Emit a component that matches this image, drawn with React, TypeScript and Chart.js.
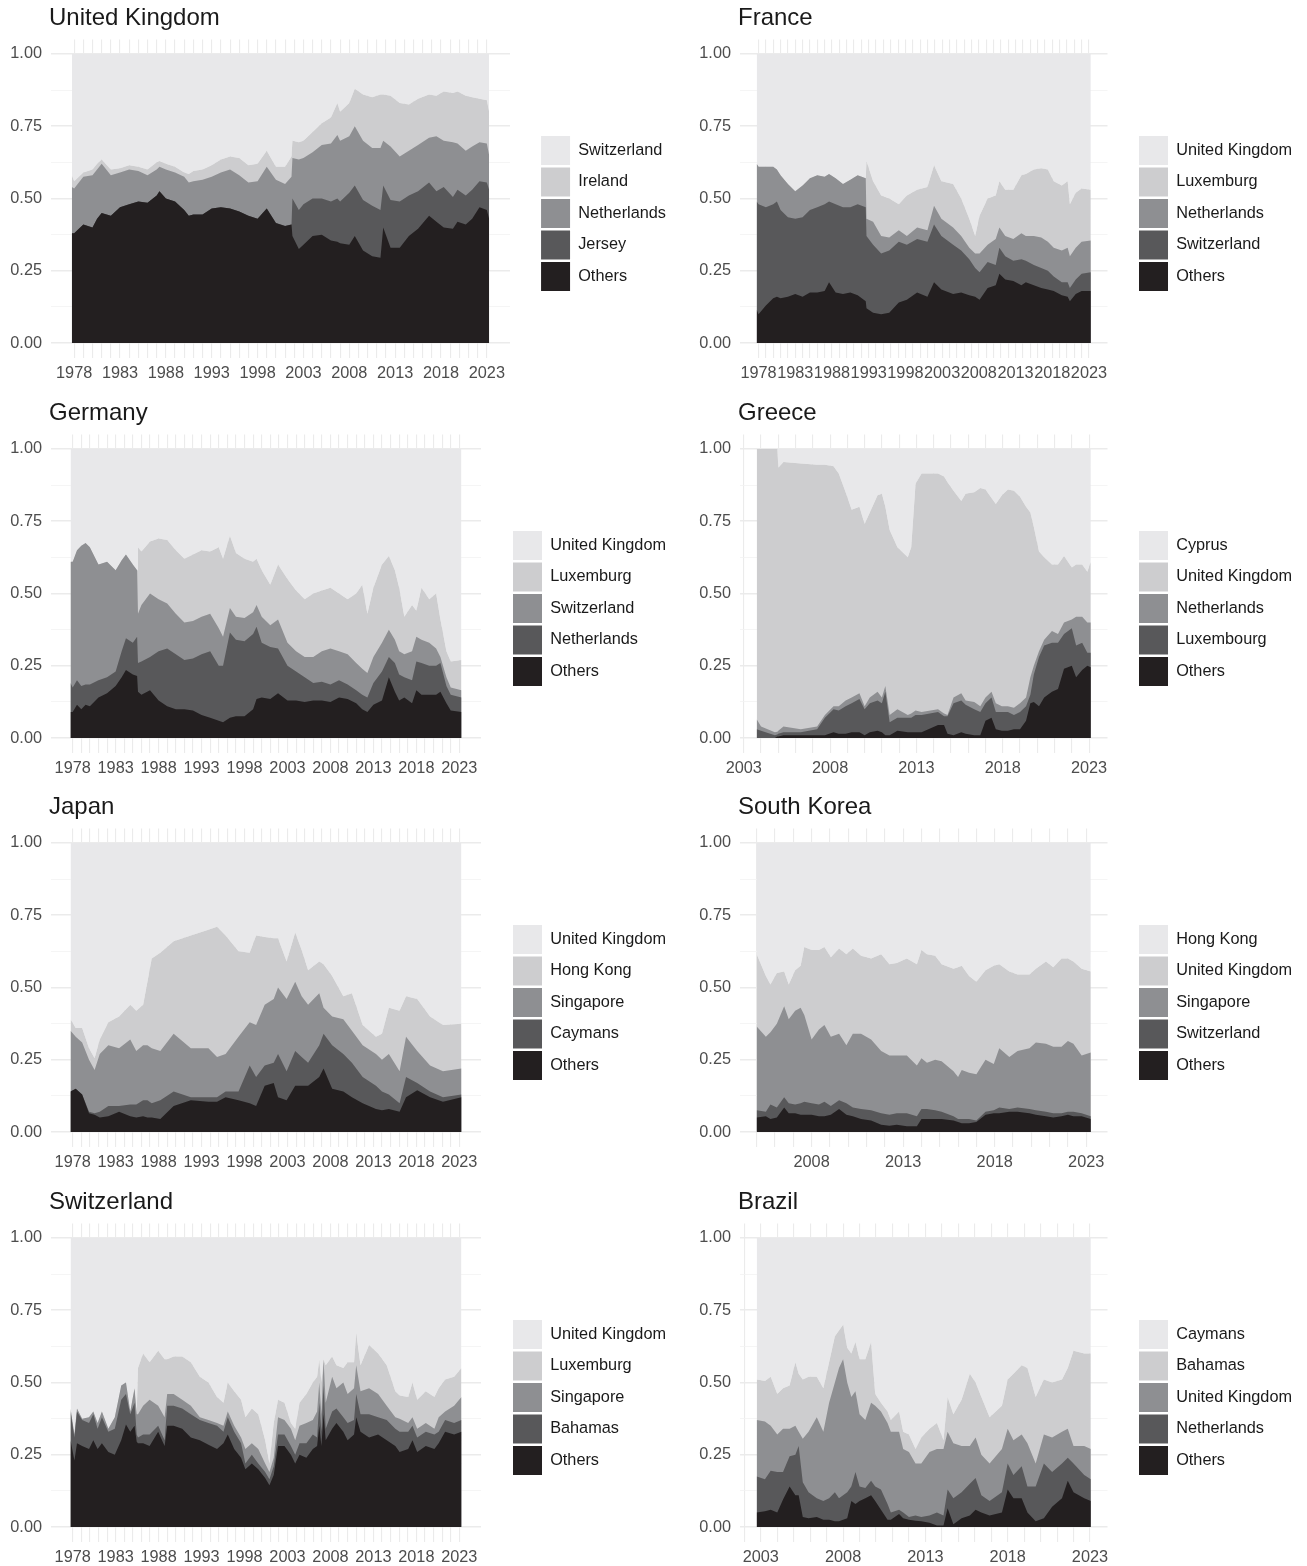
import React, { useEffect, useRef } from 'react';
import { Chart, registerables } from 'chart.js';

Chart.register(...registerables);

const FONT = "'Liberation Sans', Arial, Helvetica, sans-serif";
// band colours, bottom band first
const LAYER_COLORS = ['#231F20', '#58585A', '#8E8F92', '#CDCDCF', '#E8E8EA'];
const AXIS_TEXT = '#4D4D4D';
const LEGEND_TEXT = '#1A1A1A';
const GRID = '#EBEBEB';
const GRID_MINOR = '#F3F3F3';

// ---- axis ticks ----
const yTickValues = [0, 0.125, 0.25, 0.375, 0.5, 0.625, 0.75, 0.875, 1];
const yTickLabels = ['0.00', '', '0.25', '', '0.50', '', '0.75', '', '1.00'];
const longGridYears = Array.from({ length: 46 }, (_, i) => 1978 + i);
const longLabelYears = [1978, 1983, 1988, 1993, 1998, 2003, 2008, 2013, 2018, 2023];
const greeceGridYears = Array.from({ length: 21 }, (_, i) => 2003 + i);
const greeceLabelYears = [2003, 2008, 2013, 2018, 2023];
const koreaGridYears = Array.from({ length: 19 }, (_, i) => 2005 + i);
const koreaLabelYears = [2008, 2013, 2018, 2023];
const brazilGridYears = Array.from({ length: 22 }, (_, i) => 2002 + i);
const brazilLabelYears = [2003, 2008, 2013, 2018, 2023];

// ---- United Kingdom (upper edge of each stacked band) ----
const ukNames = ['Others', 'Jersey', 'Netherlands', 'Ireland', 'Switzerland'];
const ukYears = [1977.75, 1978, 1979, 1980, 1980.5, 1981, 1982, 1983, 1984, 1985, 1986, 1987, 1987.3, 1988, 1989, 1990, 1990.5, 1991, 1992, 1993, 1994, 1995, 1996, 1997, 1998, 1999, 2000, 2001, 2001.7, 2001.8, 2002.5, 2003, 2004, 2005, 2006, 2006.7, 2007, 2008, 2008.6, 2009.5, 2010.5, 2011.4, 2011.7, 2012.5, 2013.5, 2014.5, 2015.5, 2016.7, 2017.5, 2018.3, 2019.3, 2019.8, 2020.7, 2021.4, 2022.2, 2023, 2023.25];
const ukOthersTop = [.38, .38, .41, .40, .43, .45, .44, .47, .48, .49, .485, .51, .525, .50, .49, .46, .44, .445, .445, .465, .47, .465, .455, .44, .43, .465, .415, .405, .41, .37, .325, .34, .37, .375, .355, .35, .345, .34, .37, .32, .30, .295, .40, .33, .33, .37, .395, .44, .42, .40, .395, .42, .41, .43, .47, .46, .43];
const ukJerseyTop = [.38, .38, .41, .40, .43, .45, .44, .47, .48, .49, .485, .51, .525, .50, .49, .46, .44, .445, .445, .465, .47, .465, .455, .44, .43, .465, .415, .405, .41, .50, .46, .48, .50, .50, .49, .50, .49, .52, .545, .495, .475, .46, .545, .495, .49, .51, .525, .555, .525, .54, .505, .53, .51, .53, .56, .555, .53];
const ukNetherlandsTop = [.54, .535, .575, .58, .60, .62, .58, .59, .60, .595, .58, .60, .61, .60, .59, .575, .555, .56, .565, .575, .59, .60, .58, .555, .56, .61, .565, .55, .575, .64, .635, .64, .66, .685, .69, .72, .70, .715, .75, .70, .675, .675, .70, .68, .645, .665, .685, .71, .715, .70, .695, .69, .665, .68, .695, .69, .65];
const ukIrelandTop = [.58, .56, .59, .60, .62, .635, .60, .605, .615, .61, .60, .625, .63, .62, .61, .59, .585, .595, .60, .615, .635, .645, .64, .615, .62, .665, .61, .61, .645, .70, .695, .70, .73, .76, .78, .83, .80, .83, .88, .86, .85, .86, .86, .855, .83, .825, .845, .86, .855, .87, .865, .87, .855, .85, .845, .84, .80];

// ---- France ----
const frNames = ['Others', 'Switzerland', 'Netherlands', 'Luxemburg', 'United Kingdom'];
const frYears = [1977.75, 1978, 1979, 1980, 1980.5, 1981, 1982, 1983, 1984, 1985, 1986, 1987, 1987.6, 1988.5, 1989.5, 1990.5, 1991.5, 1992.6, 1992.7, 1993.6, 1994.7, 1995.8, 1997.1, 1998.2, 1999.6, 2001, 2001.9, 2002.9, 2004.5, 2005.6, 2006.7, 2007.5, 2008.1, 2009.2, 2010.3, 2010.8, 2011.6, 2012.7, 2013.8, 2014.4, 2015.5, 2016.5, 2017.4, 2018.2, 2019.3, 2020.1, 2020.4, 2021.2, 2022, 2023.25];
const frOthersTop = [.115, .10, .13, .155, .16, .155, .16, .17, .16, .175, .175, .18, .21, .175, .17, .175, .165, .145, .12, .105, .10, .105, .14, .15, .175, .16, .21, .185, .17, .175, .165, .16, .15, .19, .20, .24, .22, .215, .20, .21, .20, .19, .185, .18, .165, .16, .145, .17, .18, .18];
const frSwitzerlandTop = [.49, .48, .47, .48, .49, .46, .435, .43, .435, .46, .47, .48, .49, .48, .47, .47, .48, .47, .37, .34, .31, .32, .35, .34, .36, .35, .41, .37, .34, .32, .29, .26, .245, .28, .27, .33, .30, .285, .29, .285, .27, .26, .25, .23, .21, .21, .19, .22, .24, .245];
const frNetherlandsTop = [.62, .61, .61, .61, .60, .58, .55, .525, .545, .57, .58, .575, .585, .57, .55, .565, .58, .57, .43, .42, .37, .365, .39, .37, .40, .39, .475, .43, .40, .37, .33, .31, .31, .34, .36, .40, .37, .36, .38, .37, .37, .365, .35, .33, .32, .33, .30, .33, .35, .355];
const frLuxemburgTop = [.62, .61, .61, .61, .60, .58, .55, .525, .545, .57, .58, .575, .585, .57, .55, .565, .58, .57, .63, .56, .51, .50, .48, .51, .53, .54, .615, .56, .55, .50, .43, .37, .44, .50, .51, .56, .53, .53, .58, .585, .60, .605, .60, .56, .545, .56, .48, .52, .535, .53];

// ---- Germany ----
const deNames = ['Others', 'Netherlands', 'Switzerland', 'Luxemburg', 'United Kingdom'];
const deYears = [1977.75, 1978, 1978.5, 1979, 1979.5, 1980, 1981, 1982, 1983, 1983.7, 1984.2, 1985, 1985.5, 1985.6, 1986, 1987, 1988, 1989, 1990, 1991, 1992, 1993, 1994, 1995, 1995.5, 1996.3, 1997, 1998, 1999, 1999.4, 2000, 2001, 2001.9, 2003, 2004, 2005, 2006, 2007, 2008, 2009, 2010, 2011, 2011.7, 2012.3, 2013, 2014, 2014.8, 2015.5, 2016, 2016.6, 2017.5, 2018, 2018.6, 2019.5, 2020.3, 2020.8, 2021.5, 2022, 2023.25];
const deOthersTop = [.09, .09, .115, .10, .115, .11, .14, .155, .18, .21, .235, .22, .215, .16, .15, .165, .13, .11, .10, .10, .095, .08, .07, .06, .055, .07, .075, .075, .10, .135, .14, .135, .155, .13, .13, .125, .13, .13, .125, .14, .135, .12, .10, .09, .115, .13, .21, .16, .13, .14, .12, .165, .15, .15, .15, .16, .12, .095, .09];
const deNetherlandsTop = [.19, .175, .20, .18, .185, .185, .20, .21, .23, .30, .345, .33, .35, .26, .265, .28, .30, .31, .29, .27, .275, .29, .30, .25, .25, .365, .34, .335, .36, .385, .33, .315, .31, .25, .23, .21, .19, .195, .185, .20, .185, .165, .15, .14, .19, .23, .28, .26, .22, .21, .20, .265, .26, .25, .25, .26, .18, .15, .14];
const deSwitzerlandTop = [.61, .61, .65, .665, .675, .66, .60, .61, .58, .615, .635, .60, .58, .43, .46, .50, .48, .465, .43, .40, .405, .42, .43, .38, .35, .45, .42, .415, .435, .46, .42, .39, .41, .33, .30, .28, .28, .30, .31, .30, .29, .26, .24, .225, .28, .33, .375, .34, .30, .29, .30, .35, .34, .33, .31, .28, .21, .175, .165];
const deLuxemburgTop = [.61, .61, .65, .665, .675, .66, .60, .61, .58, .615, .635, .60, .58, .66, .645, .68, .69, .685, .65, .62, .635, .65, .645, .66, .62, .70, .64, .62, .61, .62, .58, .53, .60, .55, .51, .48, .50, .51, .52, .50, .48, .50, .53, .43, .52, .60, .63, .58, .52, .42, .46, .44, .52, .48, .50, .41, .30, .265, .27];

// ---- Greece ----
const grNames = ['Others', 'Luxembourg', 'Netherlands', 'United Kingdom', 'Cyprus'];
const grYears = [2003.75, 2004, 2004.8, 2004.95, 2005, 2005.3, 2006.3, 2007.25, 2007.7, 2008.2, 2008.5, 2008.9, 2009.25, 2009.7, 2010, 2010.3, 2010.75, 2011, 2011.2, 2011.45, 2011.9, 2012.5, 2012.7, 2012.95, 2013.3, 2014.25, 2014.6, 2014.8, 2015.15, 2015.6, 2015.85, 2016.35, 2016.7, 2017, 2017.35, 2017.6, 2017.95, 2018.3, 2018.65, 2019, 2019.35, 2019.6, 2019.8, 2020.1, 2020.4, 2020.85, 2021.2, 2021.55, 2022, 2022.25, 2022.6, 2022.9, 2023.1];
const grOthersTop = [0, 0, 0, .005, .005, .01, .01, .01, .01, .02, .015, .015, .02, .02, .01, .02, .025, .02, .01, .01, .025, .02, .02, .02, .02, .045, .045, .015, .01, .02, .015, .01, .01, .06, .07, .03, .025, .025, .03, .03, .06, .12, .125, .11, .14, .16, .17, .24, .25, .21, .235, .25, .245];
const grLuxembourgTop = [.03, .025, .01, .012, .015, .02, .02, .03, .07, .10, .095, .11, .12, .135, .10, .12, .13, .12, .16, .055, .07, .07, .07, .08, .08, .09, .075, .075, .12, .13, .115, .10, .09, .12, .14, .09, .09, .09, .08, .09, .11, .15, .22, .28, .32, .33, .33, .36, .38, .32, .33, .295, .295];
const grNetherlandsTop = [.065, .04, .02, .022, .025, .04, .03, .04, .08, .11, .11, .13, .14, .155, .11, .14, .16, .14, .18, .08, .10, .08, .085, .095, .09, .10, .085, .08, .14, .155, .13, .125, .11, .14, .16, .12, .11, .11, .105, .12, .14, .21, .25, .30, .34, .37, .36, .40, .41, .42, .42, .40, .40];
const grUKTop = [1, 1, 1, 1, .935, .955, .95, .945, .945, .94, .915, .85, .79, .80, .74, .78, .84, .845, .80, .72, .66, .625, .66, .88, .915, .915, .905, .885, .855, .82, .845, .85, .865, .86, .83, .81, .84, .86, .855, .835, .80, .78, .73, .645, .625, .60, .60, .63, .59, .60, .60, .575, .61];

// ---- Japan ----
const jpNames = ['Others', 'Caymans', 'Singapore', 'Hong Kong', 'United Kingdom'];
const jpYears = [1977.75, 1978.35, 1979.1, 1979.9, 1980.55, 1981.15, 1982.15, 1983.4, 1984.7, 1985.4, 1986.2, 1986.7, 1987.2, 1988.2, 1989.75, 1991.75, 1993.8, 1994.8, 1995.8, 1997.3, 1998.6, 1999.35, 2000.35, 2001.4, 2001.9, 2002.9, 2003.9, 2004.65, 2005.4, 2006.7, 2007.2, 2008.2, 2009.5, 2010.5, 2011.75, 2013.3, 2014, 2014.8, 2016.05, 2016.8, 2018.1, 2019.6, 2021.1, 2023.25];
const jpOthersTop = [.14, .15, .13, .065, .06, .05, .055, .07, .055, .05, .055, .05, .05, .045, .09, .11, .105, .105, .12, .11, .10, .09, .16, .17, .12, .11, .16, .16, .16, .19, .22, .15, .14, .12, .10, .08, .075, .08, .07, .12, .145, .12, .105, .12];
const jpCaymansTop = [.14, .15, .13, .07, .065, .07, .09, .09, .095, .095, .11, .11, .10, .11, .14, .12, .12, .12, .14, .14, .23, .19, .23, .24, .27, .21, .28, .26, .24, .30, .34, .30, .27, .24, .19, .16, .14, .13, .10, .19, .17, .14, .12, .13];
const jpSingaporeTop = [.35, .33, .31, .25, .215, .27, .30, .29, .32, .28, .30, .30, .29, .28, .34, .29, .29, .26, .27, .33, .38, .37, .44, .46, .50, .46, .52, .47, .44, .48, .43, .40, .39, .35, .30, .27, .25, .27, .21, .33, .28, .23, .21, .22];
const jpHongKongTop = [.39, .36, .36, .29, .255, .32, .38, .40, .44, .42, .44, .52, .60, .62, .66, .68, .70, .71, .68, .625, .62, .68, .675, .67, .67, .59, .69, .63, .56, .59, .58, .54, .47, .48, .37, .33, .34, .43, .42, .47, .46, .40, .37, .375];

// ---- South Korea ----
const krNames = ['Others', 'Switzerland', 'Singapore', 'United Kingdom', 'Hong Kong'];
const krYears = [2005.0, 2005.5, 2005.75, 2006.1, 2006.5, 2006.75, 2007.1, 2007.4, 2007.6, 2008.0, 2008.4, 2008.7, 2009.05, 2009.5, 2009.9, 2010.25, 2010.7, 2011.25, 2011.8, 2012.25, 2012.65, 2013.2, 2013.75, 2014.0, 2014.3, 2014.75, 2015.1, 2015.75, 2016.0, 2016.2, 2016.6, 2017.0, 2017.5, 2017.95, 2018.25, 2018.8, 2019.25, 2019.9, 2020.25, 2020.8, 2021.2, 2021.65, 2022.0, 2022.3, 2022.75, 2023.25];
const krOthersTop = [.05, .055, .045, .05, .085, .065, .065, .06, .06, .06, .055, .055, .06, .08, .06, .055, .045, .04, .025, .022, .025, .02, .02, .045, .045, .045, .045, .04, .035, .03, .03, .035, .06, .065, .065, .07, .07, .065, .06, .055, .05, .055, .06, .055, .055, .045];
const krSwitzerlandTop = [.075, .07, .095, .085, .12, .10, .095, .10, .105, .10, .095, .105, .09, .11, .10, .085, .08, .075, .065, .06, .065, .065, .055, .08, .08, .075, .07, .055, .045, .045, .045, .04, .07, .075, .085, .08, .085, .08, .075, .07, .065, .065, .07, .07, .065, .055];
const krSingaporeTop = [.365, .33, .345, .375, .435, .39, .42, .43, .405, .32, .355, .37, .33, .34, .30, .34, .34, .32, .28, .265, .265, .265, .23, .255, .24, .25, .245, .21, .19, .215, .205, .20, .25, .235, .29, .26, .28, .29, .31, .305, .295, .295, .315, .305, .265, .275];
const krUKTop = [.615, .54, .51, .55, .555, .51, .56, .575, .64, .63, .63, .64, .605, .635, .615, .635, .61, .60, .615, .58, .585, .60, .58, .63, .615, .61, .58, .565, .57, .575, .54, .52, .56, .575, .58, .555, .545, .545, .565, .59, .57, .60, .60, .59, .565, .555];

// ---- Switzerland ----
const swNames = ['Others', 'Bahamas', 'Singapore', 'Luxemburg', 'United Kingdom'];
const swYears = [1977.75, 1978.2, 1978.5, 1979.1, 1979.9, 1980.4, 1980.9, 1981.4, 1982.15, 1982.9, 1983.65, 1984.2, 1984.7, 1985.2, 1985.45, 1985.6, 1986.2, 1986.95, 1987.95, 1988.7, 1989.0, 1989.75, 1990.75, 1991.75, 1992.8, 1993.8, 1994.8, 1995.55, 1996.05, 1996.8, 1997.6, 1998.1, 1998.85, 1999.6, 2000.4, 2000.9, 2001.4, 2001.9, 2002.65, 2003.4, 2003.9, 2004.4, 2005.2, 2005.95, 2006.45, 2006.7, 2006.95, 2007.2, 2007.45, 2008.2, 2008.7, 2009.5, 2010.0, 2010.75, 2011.0, 2011.5, 2012.5, 2013.55, 2014.55, 2015.55, 2016.05, 2017.05, 2017.55, 2018.1, 2019.1, 2020.1, 2020.6, 2021.35, 2022.4, 2023.25];
const swOthersTop = [.30, .23, .29, .28, .27, .30, .27, .29, .26, .25, .30, .355, .33, .35, .295, .29, .29, .28, .33, .28, .35, .35, .34, .31, .30, .285, .27, .29, .32, .27, .24, .20, .22, .20, .17, .145, .18, .28, .28, .25, .22, .25, .24, .27, .28, .35, .28, .39, .30, .34, .36, .33, .30, .32, .38, .33, .31, .32, .30, .28, .26, .27, .30, .26, .28, .27, .29, .33, .32, .33];
const swBahamasTop = [.40, .31, .40, .37, .36, .39, .34, .38, .33, .34, .44, .46, .39, .43, .32, .31, .32, .32, .35, .30, .42, .42, .41, .39, .37, .36, .35, .33, .38, .33, .29, .22, .25, .22, .19, .165, .21, .32, .32, .28, .25, .29, .29, .32, .31, .43, .33, .49, .34, .40, .41, .38, .36, .37, .46, .39, .39, .38, .37, .34, .33, .33, .35, .31, .33, .32, .33, .37, .36, .37];
const swSingaporeTop = [.41, .32, .41, .375, .38, .40, .36, .40, .34, .38, .49, .50, .40, .48, .39, .39, .42, .44, .42, .38, .46, .46, .44, .42, .38, .37, .36, .35, .40, .35, .31, .27, .29, .27, .22, .19, .24, .38, .37, .34, .30, .35, .36, .37, .40, .50, .39, .58, .43, .52, .48, .50, .46, .48, .56, .47, .48, .46, .42, .38, .375, .36, .38, .34, .36, .34, .38, .40, .42, .45];
const swLuxemburgTop = [.41, .32, .41, .375, .38, .40, .36, .40, .34, .38, .49, .50, .40, .48, .39, .55, .60, .57, .61, .58, .58, .59, .59, .57, .52, .50, .45, .43, .50, .47, .44, .38, .41, .39, .30, .22, .36, .44, .43, .36, .34, .43, .46, .50, .52, .58, .50, .58, .56, .59, .56, .55, .57, .57, .67, .56, .63, .60, .56, .47, .455, .45, .50, .44, .47, .45, .48, .51, .52, .55];

// ---- Brazil ----
const brNames = ['Others', 'Netherlands', 'United Kingdom', 'Bahamas', 'Caymans'];
const brYears = [2002.75, 2003.25, 2003.6, 2004.0, 2004.35, 2004.75, 2005.1, 2005.3, 2005.55, 2005.9, 2006.4, 2006.8, 2007.15, 2007.5, 2007.75, 2008.0, 2008.25, 2008.5, 2008.75, 2009.0, 2009.35, 2009.7, 2009.95, 2010.3, 2010.7, 2010.9, 2011.4, 2011.65, 2012.0, 2012.4, 2012.75, 2013.25, 2013.7, 2014.1, 2014.35, 2014.7, 2015.2, 2015.7, 2016.05, 2016.4, 2016.9, 2017.65, 2018.0, 2018.35, 2018.85, 2019.2, 2019.7, 2020.2, 2020.7, 2021.3, 2021.65, 2022.0, 2022.65, 2023.05];
const brOthersTop = [.05, .055, .06, .05, .095, .14, .11, .11, .035, .03, .035, .025, .025, .02, .02, .025, .03, .09, .08, .09, .10, .11, .09, .06, .025, .025, .045, .03, .025, .022, .02, .015, .005, .005, .065, .01, .03, .04, .06, .05, .04, .05, .13, .10, .10, .05, .02, .03, .07, .10, .16, .12, .10, .09];
const brNetherlandsTop = [.175, .165, .195, .19, .19, .245, .25, .28, .155, .12, .10, .09, .10, .12, .10, .11, .12, .14, .19, .14, .135, .16, .14, .13, .08, .05, .06, .05, .035, .04, .035, .04, .05, .04, .13, .10, .12, .15, .17, .11, .09, .12, .22, .18, .21, .14, .14, .22, .19, .22, .24, .22, .18, .165];
const brUKTop = [.37, .365, .35, .32, .34, .34, .35, .33, .305, .33, .38, .33, .43, .50, .55, .58, .50, .45, .47, .39, .37, .43, .42, .40, .36, .33, .33, .27, .26, .22, .22, .26, .27, .27, .33, .29, .28, .28, .31, .25, .22, .27, .34, .30, .32, .29, .22, .32, .31, .33, .34, .28, .28, .27];
const brBahamasTop = [.51, .505, .52, .46, .48, .49, .57, .53, .51, .52, .52, .48, .57, .66, .68, .70, .62, .60, .64, .58, .58, .64, .46, .43, .40, .37, .40, .33, .32, .27, .31, .34, .36, .30, .45, .39, .44, .53, .50, .45, .38, .42, .51, .53, .56, .55, .45, .51, .50, .51, .55, .61, .60, .60];

type PanelSpec = {
  id: string;
  title: string;
  names: string[];
  years: number[];
  tops: number[][];
  gridYears: number[];
  labelYears: number[];
  col: number;
  row: number;
  areaRight: number;
};

const PANELS: PanelSpec[] = [
  { id: 'uk', title: 'United Kingdom', names: ukNames, years: ukYears, tops: [ukOthersTop, ukJerseyTop, ukNetherlandsTop, ukIrelandTop], gridYears: longGridYears, labelYears: longLabelYears, col: 0, row: 0, areaRight: 510 },
  { id: 'fr', title: 'France', names: frNames, years: frYears, tops: [frOthersTop, frSwitzerlandTop, frNetherlandsTop, frLuxemburgTop], gridYears: longGridYears, labelYears: longLabelYears, col: 1, row: 0, areaRight: 418.5 },
  { id: 'de', title: 'Germany', names: deNames, years: deYears, tops: [deOthersTop, deNetherlandsTop, deSwitzerlandTop, deLuxemburgTop], gridYears: longGridYears, labelYears: longLabelYears, col: 0, row: 1, areaRight: 481 },
  { id: 'gr', title: 'Greece', names: grNames, years: grYears, tops: [grOthersTop, grLuxembourgTop, grNetherlandsTop, grUKTop], gridYears: greeceGridYears, labelYears: greeceLabelYears, col: 1, row: 1, areaRight: 418.5 },
  { id: 'jp', title: 'Japan', names: jpNames, years: jpYears, tops: [jpOthersTop, jpCaymansTop, jpSingaporeTop, jpHongKongTop], gridYears: longGridYears, labelYears: longLabelYears, col: 0, row: 2, areaRight: 481 },
  { id: 'kr', title: 'South Korea', names: krNames, years: krYears, tops: [krOthersTop, krSwitzerlandTop, krSingaporeTop, krUKTop], gridYears: koreaGridYears, labelYears: koreaLabelYears, col: 1, row: 2, areaRight: 418.5 },
  { id: 'sw', title: 'Switzerland', names: swNames, years: swYears, tops: [swOthersTop, swBahamasTop, swSingaporeTop, swLuxemburgTop], gridYears: longGridYears, labelYears: longLabelYears, col: 0, row: 3, areaRight: 481 },
  { id: 'br', title: 'Brazil', names: brNames, years: brYears, tops: [brOthersTop, brNetherlandsTop, brUKTop, brBahamasTop], gridYears: brazilGridYears, labelYears: brazilLabelYears, col: 1, row: 3, areaRight: 418.5 },
];

const ROW_TOPS = [0, 395, 789, 1184];
const COL_LEFTS = [0, 689];
const COL_WIDTHS = [680, 618];
const LEGEND_RIGHT = [676, 613];
const CANVAS_H = 394;

function PanelChart({ p }: { p: PanelSpec }) {
  const ref = useRef<HTMLCanvasElement | null>(null);
  const W = COL_WIDTHS[p.col];
  useEffect(() => {
    if (!ref.current) return;
    const first = p.years[0];
    const last = p.years[p.years.length - 1];
    const span = last - first;
    const legendRight = LEGEND_RIGHT[p.col];
    const datasets: any[] = p.tops.map((t, i) => ({
      label: p.names[i],
      data: p.years.map((x, j) => ({ x, y: t[j] })),
      backgroundColor: LAYER_COLORS[i],
      borderColor: LAYER_COLORS[i],
      borderWidth: 0,
      pointRadius: 0,
      pointHoverRadius: 0,
      tension: 0,
      fill: 'origin',
      xAxisID: 'x',
      yAxisID: 'y',
    }));
    datasets.push({
      label: p.names[4],
      data: p.years.map((x, j) => ({ x, y: p.tops[3][j] })),
      backgroundColor: LAYER_COLORS[4],
      borderColor: LAYER_COLORS[4],
      borderWidth: 0,
      pointRadius: 0,
      pointHoverRadius: 0,
      tension: 0,
      fill: { value: 1 },
      xAxisID: 'x',
      yAxisID: 'y',
    });
    const chart = new Chart(ref.current, {
      type: 'line',
      data: { datasets },
      options: {
        animation: false,
        responsive: false,
        devicePixelRatio: 1,
        layout: { padding: { top: 39.5, bottom: 6.5, left: 0, right: W - legendRight } },
        plugins: {
          title: { display: false },
          tooltip: { enabled: false },
          legend: {
            display: true,
            position: 'right',
            reverse: true,
            maxWidth: 400,
            labels: {
              boxWidth: 29,
              boxHeight: 29,
              padding: 2.5,
              color: LEGEND_TEXT,
              font: { family: FONT, size: 16.3 },
            },
          },
        },
        scales: {
          x: {
            type: 'linear',
            position: 'bottom',
            min: first - 0.05 * span,
            max: last + 0.05 * span,
            afterBuildTicks: (s: any) => {
              s.ticks = p.gridYears.map((v) => ({ value: v }));
            },
            afterFit: (s: any) => {
              s.height = 30;
            },
            ticks: {
              autoSkip: false,
              maxRotation: 0,
              minRotation: 0,
              padding: 6.5,
              color: AXIS_TEXT,
              font: { family: FONT, size: 16.3 },
              callback: (v: any) => (p.labelYears.includes(Number(v)) ? String(v) : ''),
            },
            grid: { drawTicks: false, color: GRID, lineWidth: 1.1 },
            border: { display: false },
          },
          y: {
            type: 'linear',
            position: 'left',
            min: -0.05,
            max: 1.05,
            afterBuildTicks: (s: any) => {
              s.ticks = yTickValues.map((v) => ({ value: v }));
            },
            afterFit: (s: any) => {
              s.width = 51;
            },
            ticks: {
              padding: 9,
              color: AXIS_TEXT,
              font: { family: FONT, size: 16.3 },
              callback: (_v: any, i: number) => yTickLabels[i] ?? '',
            },
            grid: {
              drawTicks: false,
              color: (c: any) => (c.index % 2 === 0 ? GRID : GRID_MINOR),
              lineWidth: (c: any) => (c.index % 2 === 0 ? 1.5 : 0.8),
            },
            border: { display: false },
          },
          gap: {
            type: 'linear',
            position: 'right',
            display: true,
            ticks: { display: false },
            grid: { display: false, drawTicks: false },
            border: { display: false },
            afterFit: (s: any) => {
              const lw = s.chart && s.chart.legend ? s.chart.legend.width : 0;
              s.width = Math.max(0, legendRight - lw - p.areaRight);
            },
          },
        },
      } as any,
    });
    return () => chart.destroy();
  }, []);

  const left = COL_LEFTS[p.col];
  const top = ROW_TOPS[p.row];
  return (
    <>
      <canvas
        ref={ref}
        width={W}
        height={CANVAS_H}
        style={{ position: 'absolute', left, top, width: W, height: CANVAS_H, display: 'block' }}
      />
      <div
        style={{
          position: 'absolute',
          left: left + 49,
          top: top + 2.5,
          fontFamily: FONT,
          fontSize: 24,
          lineHeight: '28px',
          color: LEGEND_TEXT,
          whiteSpace: 'nowrap',
        }}
      >
        {p.title}
      </div>
    </>
  );
}

export default function App() {
  return (
    <div
      style={{
        position: 'absolute',
        left: 0,
        top: 0,
        width: 1307,
        height: 1566,
        overflow: 'hidden',
        background: '#ffffff',
      }}
    >
      {PANELS.map((p) => (
        <PanelChart key={p.id} p={p} />
      ))}
    </div>
  );
}
